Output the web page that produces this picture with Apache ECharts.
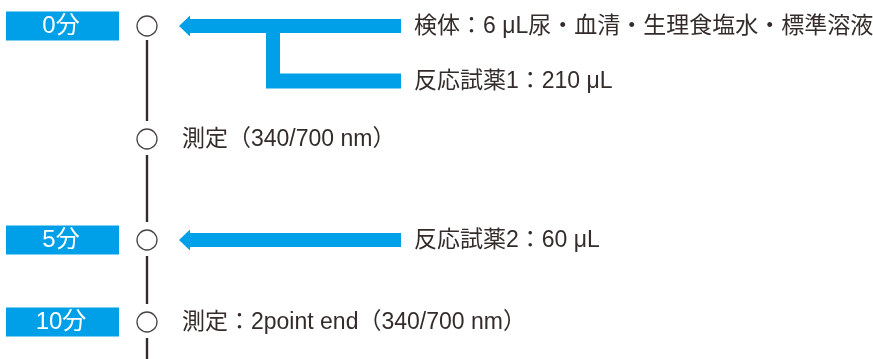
<!DOCTYPE html>
<html>
<head>
<meta charset="utf-8">
<script src="https://cdn.jsdelivr.net/npm/echarts@6/dist/echarts.min.js"></script>
<style>
  html, body { margin: 0; padding: 0; background: #ffffff; }
  #chart { width: 873px; height: 359px; }
</style>
</head>
<body>
<div id="chart"></div>
<script>
// ---- data ----
const timeLabels = ['0分', '', '', '5分', '10分'];
const stepTexts = [
  '検体：6 μL尿・血清・生理食塩水・標準溶液',
  '反応試薬1：210 μL',
  '測定（340/700 nm）',
  '反応試薬2：60 μL',
  '測定：2point end（340/700 nm）'
];
const stepKinds = ['add', 'addBranch', 'measure', 'add', 'measure'];

// ---- layout (not data) ----
const W = 873, H = 359;
const rowY = [26, 81, 139, 240, 322];
const lineX = 147;
const BLUE = '#00A0E9';
const INK = '#332c2a';
const FONT = '"Liberation Sans", "Noto Sans CJK JP", sans-serif';

const circleSteps = stepKinds.map((k, i) => (k === 'addBranch' ? -1 : i)).filter(i => i >= 0);

function renderStep(params, api) {
  const i = api.value(0);
  const kind = stepKinds[i];
  const c = api.coord([0, rowY[i]]);
  const y = c[1];
  const X = v => api.coord([v, 0])[0];
  const children = [];

  // time box
  if (timeLabels[i]) {
    children.push({
      type: 'rect',
      shape: { x: X(6), y: y - 14.5, width: X(119) - X(6), height: 29 },
      style: { fill: BLUE }
    });
    children.push({
      type: 'text',
      style: {
        text: timeLabels[i], x: X(61), y: y + 0.5,
        fill: '#ffffff', fontSize: 24, fontFamily: FONT,
        align: 'center', verticalAlign: 'middle'
      }
    });
  }

  // timeline segment below circle
  if (kind !== 'addBranch') {
    const idx = circleSteps.indexOf(i);
    const nextY = idx < circleSteps.length - 1 ? api.coord([0, rowY[circleSteps[idx + 1]]])[1] - 18 : api.coord([0, H])[1];
    const startY = idx === 0 ? y + 14 : y + 16;
    children.push({
      type: 'line',
      shape: { x1: X(lineX), y1: startY, x2: X(lineX), y2: nextY },
      style: { stroke: INK, lineWidth: 2.4 }
    });
    children.push({
      type: 'circle',
      shape: { cx: X(lineX), cy: y, r: 10 },
      style: { fill: '#ffffff', stroke: '#4a4443', lineWidth: 1.3 }
    });
  }

  // arrows
  if (kind === 'add') {
    const tip = X(179), base = X(190), end = X(401);
    children.push({
      type: 'polygon',
      shape: { points: [[tip, y], [base, y - 10.5], [base, y - 7], [end, y - 7], [end, y + 7], [base, y + 7], [base, y + 10.5]] },
      style: { fill: BLUE }
    });
  } else if (kind === 'addBranch') {
    const y0 = api.coord([0, rowY[i - 1]])[1];
    const l = X(266), r = X(280), end = X(401);
    children.push({
      type: 'polygon',
      shape: { points: [[l, y0], [r, y0], [r, y - 7.5], [end, y - 7.5], [end, y + 7.5], [l, y + 7.5]] },
      style: { fill: BLUE }
    });
  }

  // step text
  const tx = (kind === 'measure') ? X(182) : X(414);
  children.push({
    type: 'text',
    style: {
      text: stepTexts[i], x: tx, y: y + 0.5,
      fill: INK, fontSize: 23, fontFamily: FONT,
      align: 'left', verticalAlign: 'middle'
    }
  });

  return { type: 'group', children };
}

const chart = echarts.init(document.getElementById('chart'), null, { renderer: 'canvas' });
chart.setOption({
  animation: false,
  backgroundColor: '#ffffff',
  grid: { left: 0, right: 0, top: 0, bottom: 0 },
  xAxis: { type: 'value', min: 0, max: W, show: false },
  yAxis: { type: 'value', min: 0, max: H, inverse: true, show: false },
  series: [{
    type: 'custom',
    renderItem: renderStep,
    data: stepTexts.map((t, i) => [i]),
    clip: false
  }]
});
</script>
</body>
</html>
